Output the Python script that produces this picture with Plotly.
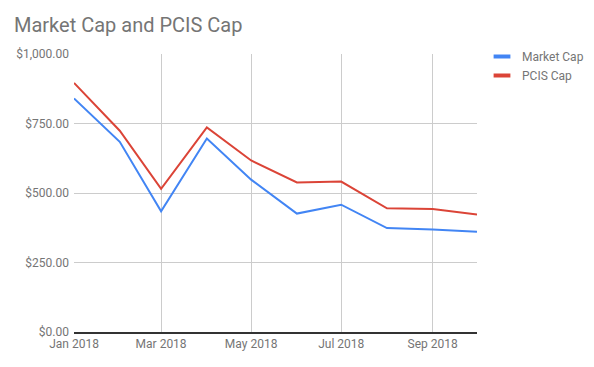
import plotly.graph_objects as go

months = ["2018-01-01", "2018-02-01", "2018-03-01", "2018-04-01", "2018-05-01",
          "2018-06-01", "2018-07-01", "2018-08-01", "2018-09-01", "2018-10-01"]
market_cap = [840, 684, 434, 696, 548, 426, 458, 374, 369, 361]
pcis_cap = [896, 724, 515, 736, 617, 538, 541, 445, 442, 423]
series_names = ["Market Cap", "PCIS Cap"]
colors = ["#4285F4", "#DB4437"]

fig = go.Figure()
for name, vals, col in zip(series_names, [market_cap, pcis_cap], colors):
    fig.add_trace(go.Scatter(x=months, y=vals, mode="lines", name=name,
                             line=dict(color=col, width=2), showlegend=False))
    fig.add_trace(go.Scatter(x=[None], y=[None], mode="markers", name=name,
                             marker=dict(symbol="line-ew", size=12,
                                         line=dict(color=col, width=4)),
                             showlegend=True))

fig.update_layout(
    width=594, height=367,
    margin=dict(l=74, r=117, t=54, b=35, autoexpand=False),
    paper_bgcolor="white", plot_bgcolor="white",
    font=dict(family="Roboto", color="#757575", size=12),
    title=dict(text="Market Cap and PCIS Cap", x=14/594, xref="container",
               xanchor="left", font=dict(size=20, color="#757575"),
               y=1 - 25/367, yref="container", yanchor="middle"),
    legend=dict(x=482/594, y=1 - 42/367, xref="container", yref="container",
                xanchor="left", yanchor="top",
                font=dict(size=12, color="#757575"), itemwidth=30,
                tracegroupgap=0, bgcolor="rgba(0,0,0,0)"),
    xaxis=dict(range=["2018-01-01", "2018-10-01"], dtick="M2", tick0="2018-01-01",
               tickformat="%b %Y", showgrid=True, gridcolor="#cccccc", gridwidth=1,
               showline=True, linecolor="#333333", linewidth=1.5, ticks="",
               zeroline=False, automargin=False,
               tickfont=dict(size=12, color="#757575")),
    yaxis=dict(range=[0, 1000], dtick=250, tickformat="$,.2f", showgrid=True,
               gridcolor="#cccccc", gridwidth=1, zeroline=False, ticks="",
               automargin=False,
               tickfont=dict(size=12, color="#757575"), ticklabelstandoff=4),
)
fig.write_html("out.html", config={"displayModeBar": False},
               post_script="document.body.style.margin='0';")
